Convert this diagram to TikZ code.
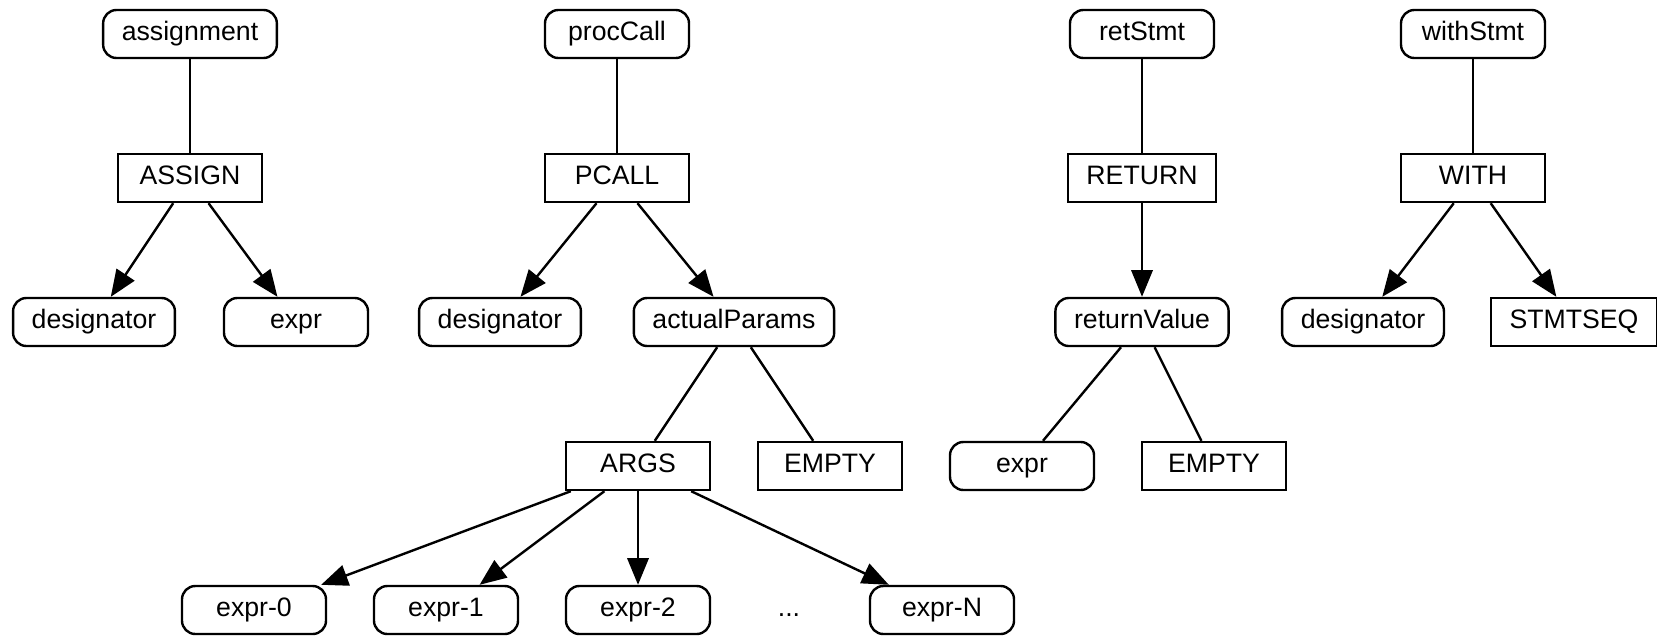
\documentclass[tikz,border=0pt]{standalone}
\usepackage{fontspec}
\setmainfont{Liberation Sans}
\usetikzlibrary{arrows.meta}

\tikzset{every picture/.style={line width=0.9pt}}
\tikzset{
	rulebox/.style={draw, rounded corners=5pt, minimum width=54pt, minimum height=18pt, inner xsep=7pt, text height=7pt, text depth=2pt, font=\fontsize{10}{12}\selectfont},
	astbox/.style={draw, minimum width=54pt, minimum height=18pt, inner xsep=7pt, text height=7pt, text depth=2pt, font=\fontsize{10}{12}\selectfont},
	textonly/.style={text height=7pt, text depth=2pt, font=\fontsize{10}{12}\selectfont},
	treearrow/.style={-{Triangle[length=10pt,width=8pt]}}
}

\begin{document}
\begin{tikzpicture}[x=0.375pt,y=0.375pt,yscale=-1,xscale=1]
		\useasboundingbox (0,0) rectangle (1657,636);
		
		% assignment
		\node [rulebox] (assignment) at (190,34) {assignment};
		\node [astbox] (assignOp) at (190,178) {ASSIGN};
		\node [rulebox] (desigA) at (94,322) {designator};
		\node [rulebox] (exprA) at (296,322) {expr};
		\draw (assignment) -- (assignOp);
		\draw [treearrow] (assignOp) -- (desigA);
		\draw [treearrow] (assignOp) -- (exprA);
		
		% procedure call
		\node [rulebox] (procCall) at (617,34) {procCall};
		\node [astbox] (pcallOp) at (617,178) {PCALL};
		\node [rulebox] (desigP) at (500,322) {designator};
		\node [rulebox] (actualParams) at (734,322) {actualParams};
		\node [astbox] (args) at (638,466) {ARGS};
		\node [astbox] (emptyP) at (830,466) {EMPTY};
		\node [rulebox] (expr0) at (254,610) {expr-0};
		\node [rulebox] (expr1) at (446,610) {expr-1};
		\node [rulebox] (expr2) at (638,610) {expr-2};
		\node [textonly] (dots) at (789,610) {...};
		\node [rulebox] (exprN) at (942,610) {expr-N};
		\draw (procCall) -- (pcallOp);
		\draw [treearrow] (pcallOp) -- (desigP);
		\draw [treearrow] (pcallOp) -- (actualParams);
		\draw (actualParams) -- (args);
		\draw (actualParams) -- (emptyP);
		\draw [treearrow] (args) -- (expr0);
		\draw [treearrow] (args) -- (expr1);
		\draw [treearrow] (args) -- (expr2);
		\draw [treearrow] (args) -- (exprN);
		
		% return
		\node [rulebox] (retStmt) at (1142,34) {retStmt};
		\node [astbox] (returnOp) at (1142,178) {RETURN};
		\node [rulebox] (returnValue) at (1142,322) {returnValue};
		\node [rulebox] (exprR) at (1022,466) {expr};
		\node [astbox] (emptyR) at (1214,466) {EMPTY};
		\draw (retStmt) -- (returnOp);
		\draw [treearrow] (returnOp) -- (returnValue);
		\draw (returnValue) -- (exprR);
		\draw (returnValue) -- (emptyR);
		
		% with
		\node [rulebox] (withStmt) at (1473,34) {withStmt};
		\node [astbox] (withOp) at (1473,178) {WITH};
		\node [rulebox] (desigW) at (1363,322) {designator};
		\node [astbox] (stmtSeq) at (1574,322) {STMTSEQ};
		\draw (withStmt) -- (withOp);
		\draw [treearrow] (withOp) -- (desigW);
		\draw [treearrow] (withOp) -- (stmtSeq);
		
	\end{tikzpicture}
\end{document}
